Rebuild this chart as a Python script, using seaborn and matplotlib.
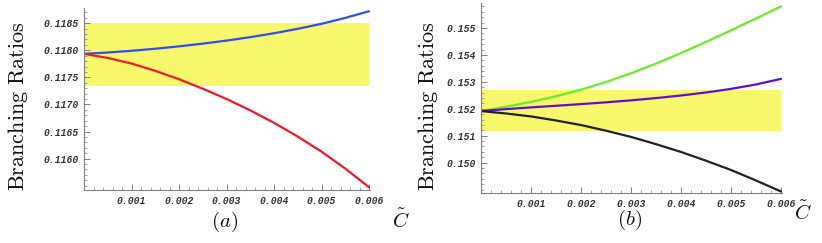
import numpy as np
import pandas as pd
import matplotlib
matplotlib.use("Agg")
import matplotlib.pyplot as plt
import seaborn as sns
from matplotlib.ticker import MultipleLocator, FixedLocator, FuncFormatter

sns.set_theme(style="white")
plt.rcParams['mathtext.fontset'] = 'cm'

# x values (C tilde)
c_vals = [0.0, 0.0005, 0.001, 0.0015, 0.002, 0.0025, 0.003, 0.0035, 0.004, 0.0045, 0.005, 0.0055, 0.006]

# panel (a)
a_blue = [0.117934, 0.117958, 0.117990, 0.118028, 0.118072, 0.118122, 0.118178,
          0.118242, 0.118314, 0.118396, 0.118488, 0.118598, 0.118720]
a_red = [0.117934, 0.117858, 0.117755, 0.117620, 0.117465, 0.117290, 0.117100,
         0.116890, 0.116660, 0.116405, 0.116128, 0.115815, 0.115470]
a_band = [0.11734, 0.11850]

# panel (b)
b_green = [0.151915, 0.152075, 0.152255, 0.152465, 0.152710, 0.152995, 0.153320,
           0.153680, 0.154070, 0.154485, 0.154915, 0.155355, 0.155804]
b_purple = [0.151915, 0.151987, 0.152051, 0.152111, 0.152173, 0.152239, 0.152313,
            0.152397, 0.152493, 0.152605, 0.152739, 0.152903, 0.153111]
b_black = [0.151915, 0.151825, 0.151715, 0.151565, 0.151395, 0.151185, 0.150955,
           0.150685, 0.150395, 0.150070, 0.149725, 0.149335, 0.148926]
b_band = [0.15117, 0.15268]

a_yticks = [0.1160, 0.1165, 0.1170, 0.1175, 0.1180, 0.1185]
b_yticks = [0.150, 0.151, 0.152, 0.153, 0.154, 0.155]
x_ticks = [0.001, 0.002, 0.003, 0.004, 0.005, 0.006]

W, H = 822, 243
fig = plt.figure(figsize=(W / 100, H / 100), dpi=100)

def box(l, r, t, b):
    return [l / W, 1 - b / H, (r - l) / W, (b - t) / H]

ax_a = fig.add_axes(box(84, 370, 8, 190))
ax_b = fig.add_axes(box(481, 782, 3, 193))

yellow = '#f7f76c'
tick_font = dict(family='Liberation Mono', style='italic', weight='bold', size=7)

def style(ax, ylim, yticks, yminor, fmt):
    ax.set_xlim(0, 0.00602)
    ax.set_ylim(*ylim)
    for s in ['top', 'right']:
        ax.spines[s].set_visible(False)
    for s in ['left', 'bottom']:
        ax.spines[s].set_color('#808080')
        ax.spines[s].set_linewidth(0.8)
    ax.xaxis.set_major_locator(FixedLocator(x_ticks))
    ax.xaxis.set_minor_locator(MultipleLocator(0.0002))
    ax.yaxis.set_major_locator(FixedLocator(yticks))
    ax.yaxis.set_minor_locator(MultipleLocator(yminor))
    ax.xaxis.set_major_formatter(FuncFormatter(lambda v, p: f"{v:.3f}"))
    ax.yaxis.set_major_formatter(FuncFormatter(fmt))
    ax.tick_params(axis='both', which='both', bottom=True, left=True, top=False, right=False)
    ax.tick_params(axis='both', which='major', direction='in', length=4.5, width=0.7,
                   color='#808080', labelcolor='#333333')
    ax.tick_params(axis='both', which='minor', direction='in', length=2.2, width=0.6,
                   color='#909090')
    ax.tick_params(axis='x', which='major', pad=4)
    ax.tick_params(axis='y', which='major', pad=4)
    for lab in ax.get_xticklabels() + ax.get_yticklabels():
        lab.set_fontfamily(tick_font['family'])
        lab.set_fontstyle(tick_font['style'])
        lab.set_fontweight(tick_font['weight'])
        lab.set_fontsize(tick_font['size'])
    ax.set_xlabel('')
    ax.set_ylabel('')

# Panel (a)
ax_a.fill_between([0, 0.006], a_band[0], a_band[1], color=yellow, lw=0, zorder=0)
df_a = pd.DataFrame({'C': c_vals * 2, 'BR': a_blue + a_red,
                     'curve': ['blue'] * len(c_vals) + ['red'] * len(c_vals)})
sns.lineplot(data=df_a, x='C', y='BR', hue='curve',
             palette={'blue': '#2f4fee', 'red': '#f01a2a'}, lw=1.6, ax=ax_a, legend=False)
style(ax_a, (0.11542, 0.11878), a_yticks, 0.0001, lambda v, p: f"{v:.4f}")

# Panel (b)
ax_b.fill_between([0, 0.006], b_band[0], b_band[1], color=yellow, lw=0, zorder=0)
df_b = pd.DataFrame({'C': c_vals * 3, 'BR': b_green + b_purple + b_black,
                     'curve': ['green'] * len(c_vals) + ['purple'] * len(c_vals) + ['black'] * len(c_vals)})
sns.lineplot(data=df_b, x='C', y='BR', hue='curve',
             palette={'green': '#66ee22', 'purple': '#6010cc', 'black': '#222222'},
             lw=1.6, ax=ax_b, legend=False)
style(ax_b, (0.14887, 0.15593), b_yticks, 0.0002, lambda v, p: f"{v:.3f}")

# Labels
lab_kw = dict(fontsize=16, rotation=90, ha='center', va='center', color='#111111')
fig.text(18 / W, 1 - 106 / H, r'$\mathrm{Branching\ Ratios}$', **lab_kw)
fig.text(428 / W, 1 - 106 / H, r'$\mathrm{Branching\ Ratios}$', **lab_kw)
fig.text(225 / W, 1 - 222 / H, r'$(a)$', fontsize=15, ha='center', va='center', color='#111111')
fig.text(630 / W, 1 - 220 / H, r'$(b)$', fontsize=15, ha='center', va='center', color='#111111')
fig.text(401 / W, 1 - 220 / H, r'$\tilde{C}$', fontsize=15, ha='center', va='center', color='#111111')
fig.text(803 / W, 1 - 212 / H, r'$\tilde{C}$', fontsize=15, ha='center', va='center', color='#111111')

fig.savefig('out.png', dpi=100)
